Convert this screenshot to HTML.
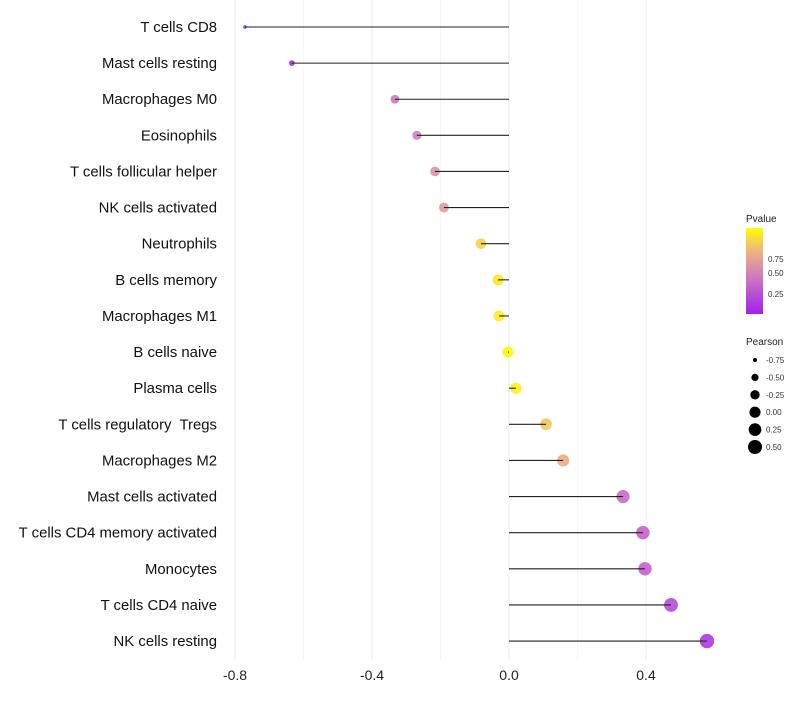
<!DOCTYPE html>
<html><head><meta charset="utf-8"><style>
body{margin:0;background:#fff;font-family:"Liberation Sans",sans-serif}
</style></head><body>
<svg id="chart" width="800" height="700" xmlns="http://www.w3.org/2000/svg" font-family="Liberation Sans, sans-serif">
<defs><linearGradient id="pg" x1="0" y1="1" x2="0" y2="0">
<stop offset="0" stop-color="#a020f0"/><stop offset="0.45" stop-color="#d27cbc"/><stop offset="0.75" stop-color="#f0b878"/><stop offset="1" stop-color="#ffff00"/></linearGradient></defs>
<g id="grid"></g><g id="pts"></g><g id="marks"></g><g id="labels"></g>
<g>
<text x="746" y="222" font-size="10" fill="#222">Pvalue</text>
<rect x="746" y="228" width="17" height="86" fill="url(#pg)"/>
<text x="768" y="262" font-size="8" fill="#333">0.75</text>
<text x="768" y="276" font-size="8" fill="#333">0.50</text>
<text x="768" y="297" font-size="8" fill="#333">0.25</text>
</g>
<g id="sizeleg">
<text x="746" y="345" font-size="10" fill="#222">Pearson</text>
</g>
</svg>
<script>
const categories=["T cells CD8","Mast cells resting","Macrophages M0","Eosinophils","T cells follicular helper","NK cells activated","Neutrophils","B cells memory","Macrophages M1","B cells naive","Plasma cells","T cells regulatory  Tregs","Macrophages M2","Mast cells activated","T cells CD4 memory activated","Monocytes","T cells CD4 naive","NK cells resting"];
const pearson=[-0.771,-0.634,-0.333,-0.269,-0.216,-0.190,-0.082,-0.032,-0.029,-0.003,0.020,0.108,0.158,0.333,0.391,0.397,0.473,0.578];
const pvalues=[0.02,0.05,0.42,0.48,0.56,0.6,0.84,0.92,0.93,0.99,0.95,0.8,0.7,0.36,0.32,0.32,0.22,0.12];
const xTicks=[-0.8,-0.4,0.0,0.4];
const minorTicks=[-0.6,-0.2,0.2];
const sizeLegend=[-0.75,-0.5,-0.25,0.0,0.25,0.5];
const NS="http://www.w3.org/2000/svg";
const x=v=>509+v*342.5;
const y=i=>27+i*36.12;
const r=v=>Math.sqrt(Math.max(1,31+36*v));
function col(p){
 const st=[[0,[160,32,240]],[0.45,[210,124,188]],[0.75,[240,184,120]],[1,[255,255,0]]];
 p=Math.min(1,Math.max(0,p));
 for(let k=1;k<st.length;k++){if(p<=st[k][0]){const a=st[k-1],b=st[k],t=(p-a[0])/(b[0]-a[0]);
 return `rgb(${a[1].map((c,j)=>Math.round(c+(b[1][j]-c)*t)).join(',')})`;}}
}
function mk(tag,at,parent){const e=document.createElementNS(NS,tag);for(const k in at)e.setAttribute(k,at[k]);document.getElementById(parent).appendChild(e);return e;}
const allT=xTicks.concat(minorTicks);
allT.forEach(t=>{const e=mk('line',{x1:x(t),x2:x(t),y1:0,y2:660,stroke:xTicks.includes(t)?'#ebebeb':'#f5f5f5','stroke-width':1},'grid');

});
xTicks.forEach(t=>{const e=mk('text',{x:x(t),y:680,'font-size':14,'text-anchor':'middle',fill:'#222'},'labels');e.textContent=t.toFixed(1);

});
categories.forEach((c,i)=>{
 const t=mk('text',{x:217,y:y(i)+5,'font-size':14.9,'text-anchor':'end',fill:'#111','xml:space':'preserve',style:'white-space:pre'},'labels');t.textContent=c;
 
 
 const p=mk('circle',{cx:x(pearson[i]),cy:y(i),r:r(pearson[i]),fill:col(pvalues[i]),'fill-opacity':0.9},'pts');
 
 
 const l=mk('line',{x1:x(0),x2:x(pearson[i]),y1:y(i),y2:y(i),stroke:'#222','stroke-width':1.1},'marks');
 
 
});
sizeLegend.forEach((v,k)=>{const cy=360+k*17.4;
 const c=mk('circle',{cx:755,cy:cy,r:r(v),fill:'#000'},'sizeleg');
 
 
 const t=mk('text',{x:766,y:cy+3,'font-size':8,fill:'#333'},'sizeleg');t.textContent=v.toFixed(2);
 
 });
</script>
</body></html>
